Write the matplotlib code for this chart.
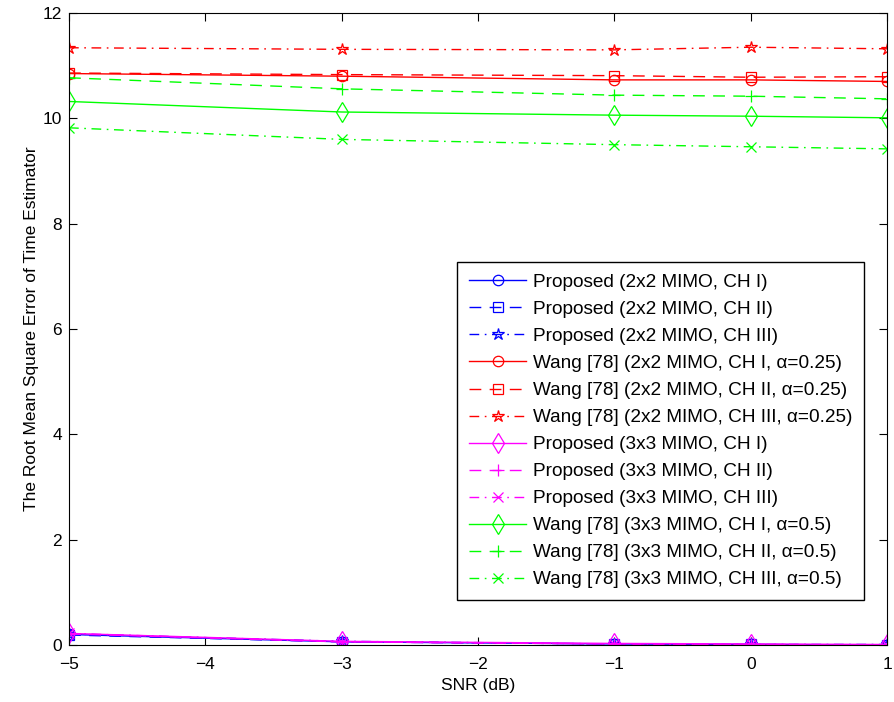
import numpy as np
import matplotlib.pyplot as plt

plt.rcParams['font.family'] = ['Liberation Sans', 'DejaVu Sans']

snr = [-5, -3, -1, 0, 1]

# proposed, 2x2 MIMO
prop22_ch1 = [0.20, 0.06, 0.02, 0.01, 0.00]
prop22_ch2 = [0.19, 0.06, 0.02, 0.01, 0.00]
prop22_ch3 = [0.21, 0.07, 0.02, 0.01, 0.01]
# Wang [78], 2x2 MIMO, alpha=0.25
wang22_ch1 = [10.85, 10.80, 10.73, 10.73, 10.70]
wang22_ch2 = [10.86, 10.83, 10.81, 10.78, 10.79]
wang22_ch3 = [11.34, 11.31, 11.30, 11.35, 11.32]
# proposed, 3x3 MIMO
prop33_ch1 = [0.22, 0.07, 0.03, 0.02, 0.01]
prop33_ch2 = [0.21, 0.06, 0.02, 0.01, 0.00]
prop33_ch3 = [0.22, 0.06, 0.02, 0.01, 0.00]
# Wang [78], 3x3 MIMO, alpha=0.5
wang33_ch1 = [10.32, 10.12, 10.06, 10.04, 10.01]
wang33_ch2 = [10.77, 10.56, 10.44, 10.42, 10.37]
wang33_ch3 = [9.82, 9.60, 9.50, 9.46, 9.42]

BLUE, RED, MAG, GRN = '#0000ff', '#ff0000', '#ff00ff', '#00ff00'
series = [
    (prop22_ch1, 'Proposed (2x2 MIMO, CH I)', BLUE, '-', 'o'),
    (prop22_ch2, 'Proposed (2x2 MIMO, CH II)', BLUE, '--', 's'),
    (prop22_ch3, 'Proposed (2x2 MIMO, CH III)', BLUE, '-.', '*'),
    (wang22_ch1, 'Wang [78] (2x2 MIMO, CH I, α=0.25)', RED, '-', 'o'),
    (wang22_ch2, 'Wang [78] (2x2 MIMO, CH II, α=0.25)', RED, '--', 's'),
    (wang22_ch3, 'Wang [78] (2x2 MIMO, CH III, α=0.25)', RED, '-.', '*'),
    (prop33_ch1, 'Proposed (3x3 MIMO, CH I)', MAG, '-', 'd'),
    (prop33_ch2, 'Proposed (3x3 MIMO, CH II)', MAG, '--', '+'),
    (prop33_ch3, 'Proposed (3x3 MIMO, CH III)', MAG, '-.', 'x'),
    (wang33_ch1, 'Wang [78] (3x3 MIMO, CH I, α=0.5)', GRN, '-', 'd'),
    (wang33_ch2, 'Wang [78] (3x3 MIMO, CH II, α=0.5)', GRN, '--', '+'),
    (wang33_ch3, 'Wang [78] (3x3 MIMO, CH III, α=0.5)', GRN, '-.', 'x'),
]
msizes = {'o': 7.5, 's': 6.5, '*': 9, 'd': 10, '+': 8, 'x': 6.5}
# matlab-like dash patterns
dashes = {'-': '-', '--': (0, (8.5, 6)), '-.': (0, (7, 4, 1.2, 4))}

fig = plt.figure(figsize=(8.95, 7.02), dpi=100)
ax = fig.add_axes([0.0771, 0.0812, 0.914, 0.9003])

for vals, label, col, ls, mk in series:
    ax.plot(snr, vals, color=col, linestyle=dashes[ls], marker=mk, markersize=msizes[mk],
            markerfacecolor='none', markeredgecolor=col, linewidth=1,
            markeredgewidth=0.9, label=label)

ax.set_xlim(-5, 1)
ax.set_ylim(0, 12)
ax.set_xticks(np.arange(-5, 2, 1))
ax.set_yticks(np.arange(0, 13, 2))
ax.tick_params(direction='in', top=True, right=True, labelsize=12.5, length=6)
ax.tick_params(axis='x', pad=9)
ax.tick_params(axis='y', pad=5)
ax.set_xlabel('SNR (dB)', fontsize=12.5, labelpad=4)
ax.set_ylabel('The Root Mean Square Error of Time Estimator', fontsize=12.5, labelpad=3)

leg = ax.legend(loc='lower right', bbox_to_anchor=(0.972, 0.071), fontsize=13.7,
                labelspacing=0.51, handlelength=3.0, handletextpad=0.35,
                fancybox=False, edgecolor='black', framealpha=1,
                borderaxespad=0, borderpad=0.62)
leg.get_frame().set_linewidth(1)

fig.savefig('out.png', dpi=100)
